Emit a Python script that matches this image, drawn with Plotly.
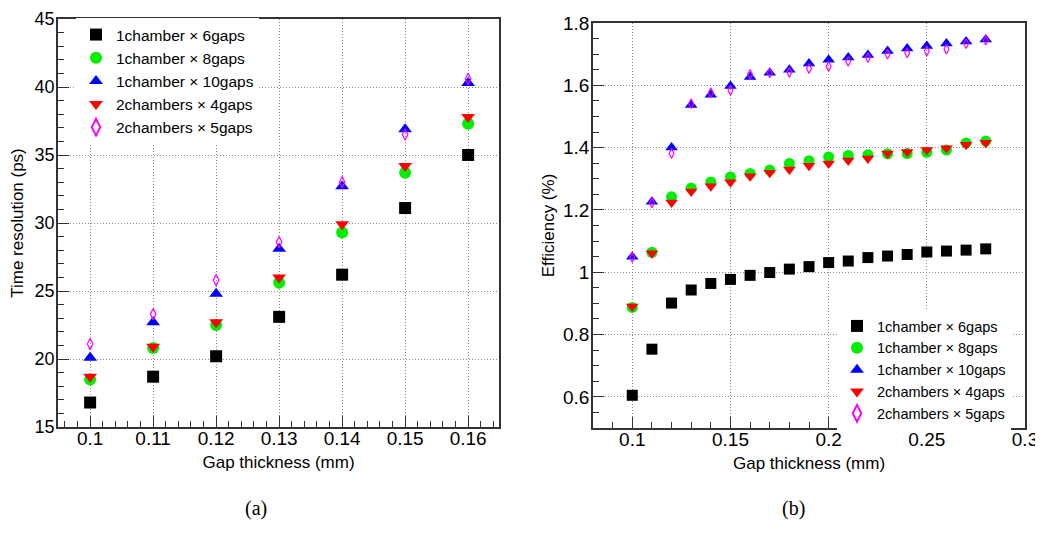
import plotly.graph_objects as go

# ---------------- data: panel (a) ----------------
gap_a = [0.10, 0.11, 0.12, 0.13, 0.14, 0.15, 0.16]
tr_1c6g = [16.8, 18.7, 20.2, 23.1, 26.2, 31.1, 35.0]
tr_1c8g = [18.5, 20.8, 22.5, 25.6, 29.3, 33.7, 37.3]
tr_1c10g = [20.1, 22.7, 24.8, 28.1, 32.7, 36.9, 40.3]
tr_2c4g = [18.7, 20.9, 22.7, 26.0, 29.9, 34.2, 37.8]
tr_2c5g = [21.1, 23.3, 25.8, 28.6, 33.0, 36.5, 40.6]
ticks_a = ["0.1", "0.11", "0.12", "0.13", "0.14", "0.15", "0.16"]

# ---------------- data: panel (b) ----------------
gap_b = [0.10, 0.11, 0.12, 0.13, 0.14, 0.15, 0.16, 0.17, 0.18, 0.19,
         0.20, 0.21, 0.22, 0.23, 0.24, 0.25, 0.26, 0.27, 0.28]
eff_1c6g = [0.605, 0.753, 0.901, 0.943, 0.964, 0.977, 0.990, 0.999, 1.010, 1.018,
            1.031, 1.036, 1.047, 1.052, 1.057, 1.065, 1.068, 1.071, 1.075]
eff_1c8g = [0.887, 1.064, 1.242, 1.270, 1.290, 1.306, 1.317, 1.328, 1.349, 1.358,
            1.370, 1.375, 1.377, 1.380, 1.381, 1.385, 1.392, 1.415, 1.421]
eff_1c10g = [1.050, 1.226, 1.400, 1.537, 1.570, 1.598, 1.627, 1.640, 1.650, 1.670,
             1.682, 1.689, 1.697, 1.710, 1.718, 1.726, 1.734, 1.741, 1.747]
eff_2c4g = [0.890, 1.061, 1.224, 1.259, 1.276, 1.289, 1.308, 1.319, 1.330, 1.342,
            1.349, 1.359, 1.365, 1.381, 1.386, 1.392, 1.398, 1.409, 1.416]
eff_2c5g = [1.048, 1.223, 1.381, 1.541, 1.576, 1.584, 1.635, 1.640, 1.642, 1.654,
            1.661, 1.677, 1.689, 1.700, 1.704, 1.710, 1.716, 1.734, 1.745]

names = ["1chamber × 6gaps", "1chamber × 8gaps", "1chamber × 10gaps",
         "2chambers × 4gaps", "2chambers × 5gaps"]
colors = ["#000000", "#00ee00", "#0000ff", "#ff0000", "#ff00ff"]
symbols = ["square", "circle", "triangle-up", "triangle-down", "diamond-tall-open"]
sizes = [12, 12, 12, 12, 8]

FONT = "Liberation Sans, Arial, sans-serif"
SERIF = "Liberation Serif, Times New Roman, serif"

# the page body adds an 8px offset; the figure is sized to fit the window
W, H, OFF = 1035, 525, 8


def px(x):
    return (x - OFF) / W


def py(y):
    return 1 - (y - OFF) / H


fig = go.Figure()

series_a = [tr_1c6g, tr_1c8g, tr_1c10g, tr_2c4g, tr_2c5g]
series_b = [eff_1c6g, eff_1c8g, eff_1c10g, eff_2c4g, eff_2c5g]

for i in range(5):
    fig.add_trace(go.Scatter(
        x=gap_a, y=series_a[i], mode="markers", name=names[i],
        marker=dict(symbol=symbols[i], color=colors[i], size=sizes[i],
                    line=dict(width=1.2 if i == 4 else 0, color=colors[i])),
        xaxis="x", yaxis="y", legend="legend",
    ))
for i in range(5):
    fig.add_trace(go.Scatter(
        x=gap_b, y=series_b[i], mode="markers", name=names[i],
        marker=dict(symbol=symbols[i], color=colors[i], size=sizes[i] - 1,
                    line=dict(width=1.2 if i == 4 else 0, color=colors[i])),
        xaxis="x2", yaxis="y2", legend="legend2",
    ))

axis_common = dict(
    automargin=False,
    showline=True, linecolor="#333333", linewidth=1.5, mirror=True,
    ticks="inside", ticklen=11, tickwidth=1, tickcolor="#333333",
    showgrid=True, gridcolor="#8a8a8a", griddash="1px,2px", gridwidth=1,
    zeroline=False, tickfont=dict(family=FONT, size=19, color="#000"),
    title_font=dict(family=FONT, size=17, color="#000"),
    ticklabeloverflow="allow",
)
xcommon = dict(axis_common, ticklabelstandoff=-7)
ycommon = dict(axis_common, ticklabelstandoff=-2)

fig.update_layout(
    width=W, height=H,
    margin=dict(l=0, r=0, t=0, b=0, autoexpand=False),
    paper_bgcolor="white", plot_bgcolor="white",
    xaxis=dict(xcommon, domain=[px(58), px(499)], range=[0.0949, 0.1649],
               tickmode="array", tickvals=gap_a, ticktext=ticks_a,
               minor=dict(ticks="inside", ticklen=6, dtick=0.002, tick0=0.1, tickcolor="#333333", showgrid=False),
               title=dict(text="Gap thickness (mm)", standoff=9), anchor="y"),
    yaxis=dict(ycommon, domain=[py(427), py(19)], range=[15, 45], dtick=5,
               tickfont=dict(family=FONT, size=18, color="#000"),
               minor=dict(ticks="inside", ticklen=6, dtick=1, tickcolor="#333333", showgrid=False),
               title=dict(text="Time resolution (ps)", standoff=10), anchor="x"),
    xaxis2=dict(xcommon, domain=[px(593), px(1025)], range=[0.08, 0.30], dtick=0.05, tick0=0.1,
                tickformat="~g",
                minor=dict(ticks="inside", ticklen=6, dtick=0.01, tickcolor="#333333", showgrid=False),
                title=dict(text="Gap thickness (mm)", standoff=9), anchor="y2"),
    yaxis2=dict(ycommon, domain=[py(428), py(23)], range=[0.5, 1.8], dtick=0.2, tick0=0.6,
                tickformat="~g",
                minor=dict(ticks="inside", ticklen=6, dtick=0.05, tickcolor="#333333", showgrid=False),
                title=dict(text="Efficiency (%)", standoff=4), anchor="x2"),
    legend=dict(x=px(76), y=py(18), xanchor="left", yanchor="top", bgcolor="white",
                font=dict(family=FONT, size=15.5, color="#000"),
                itemsizing="constant"),
    legend2=dict(x=px(837), y=py(310), xanchor="left", yanchor="top", bgcolor="white",
                 font=dict(family=FONT, size=14.5, color="#000"),
                 itemsizing="constant"),
    annotations=[
        dict(text="(a)", x=px(256), y=py(508), xref="paper", yref="paper",
             xanchor="center", yanchor="middle",
             showarrow=False, font=dict(family=SERIF, size=20, color="#000")),
        dict(text="(b)", x=px(793), y=py(508), xref="paper", yref="paper",
             xanchor="center", yanchor="middle",
             showarrow=False, font=dict(family=SERIF, size=20, color="#000")),
    ],
)

fig.write_html("out.html")
